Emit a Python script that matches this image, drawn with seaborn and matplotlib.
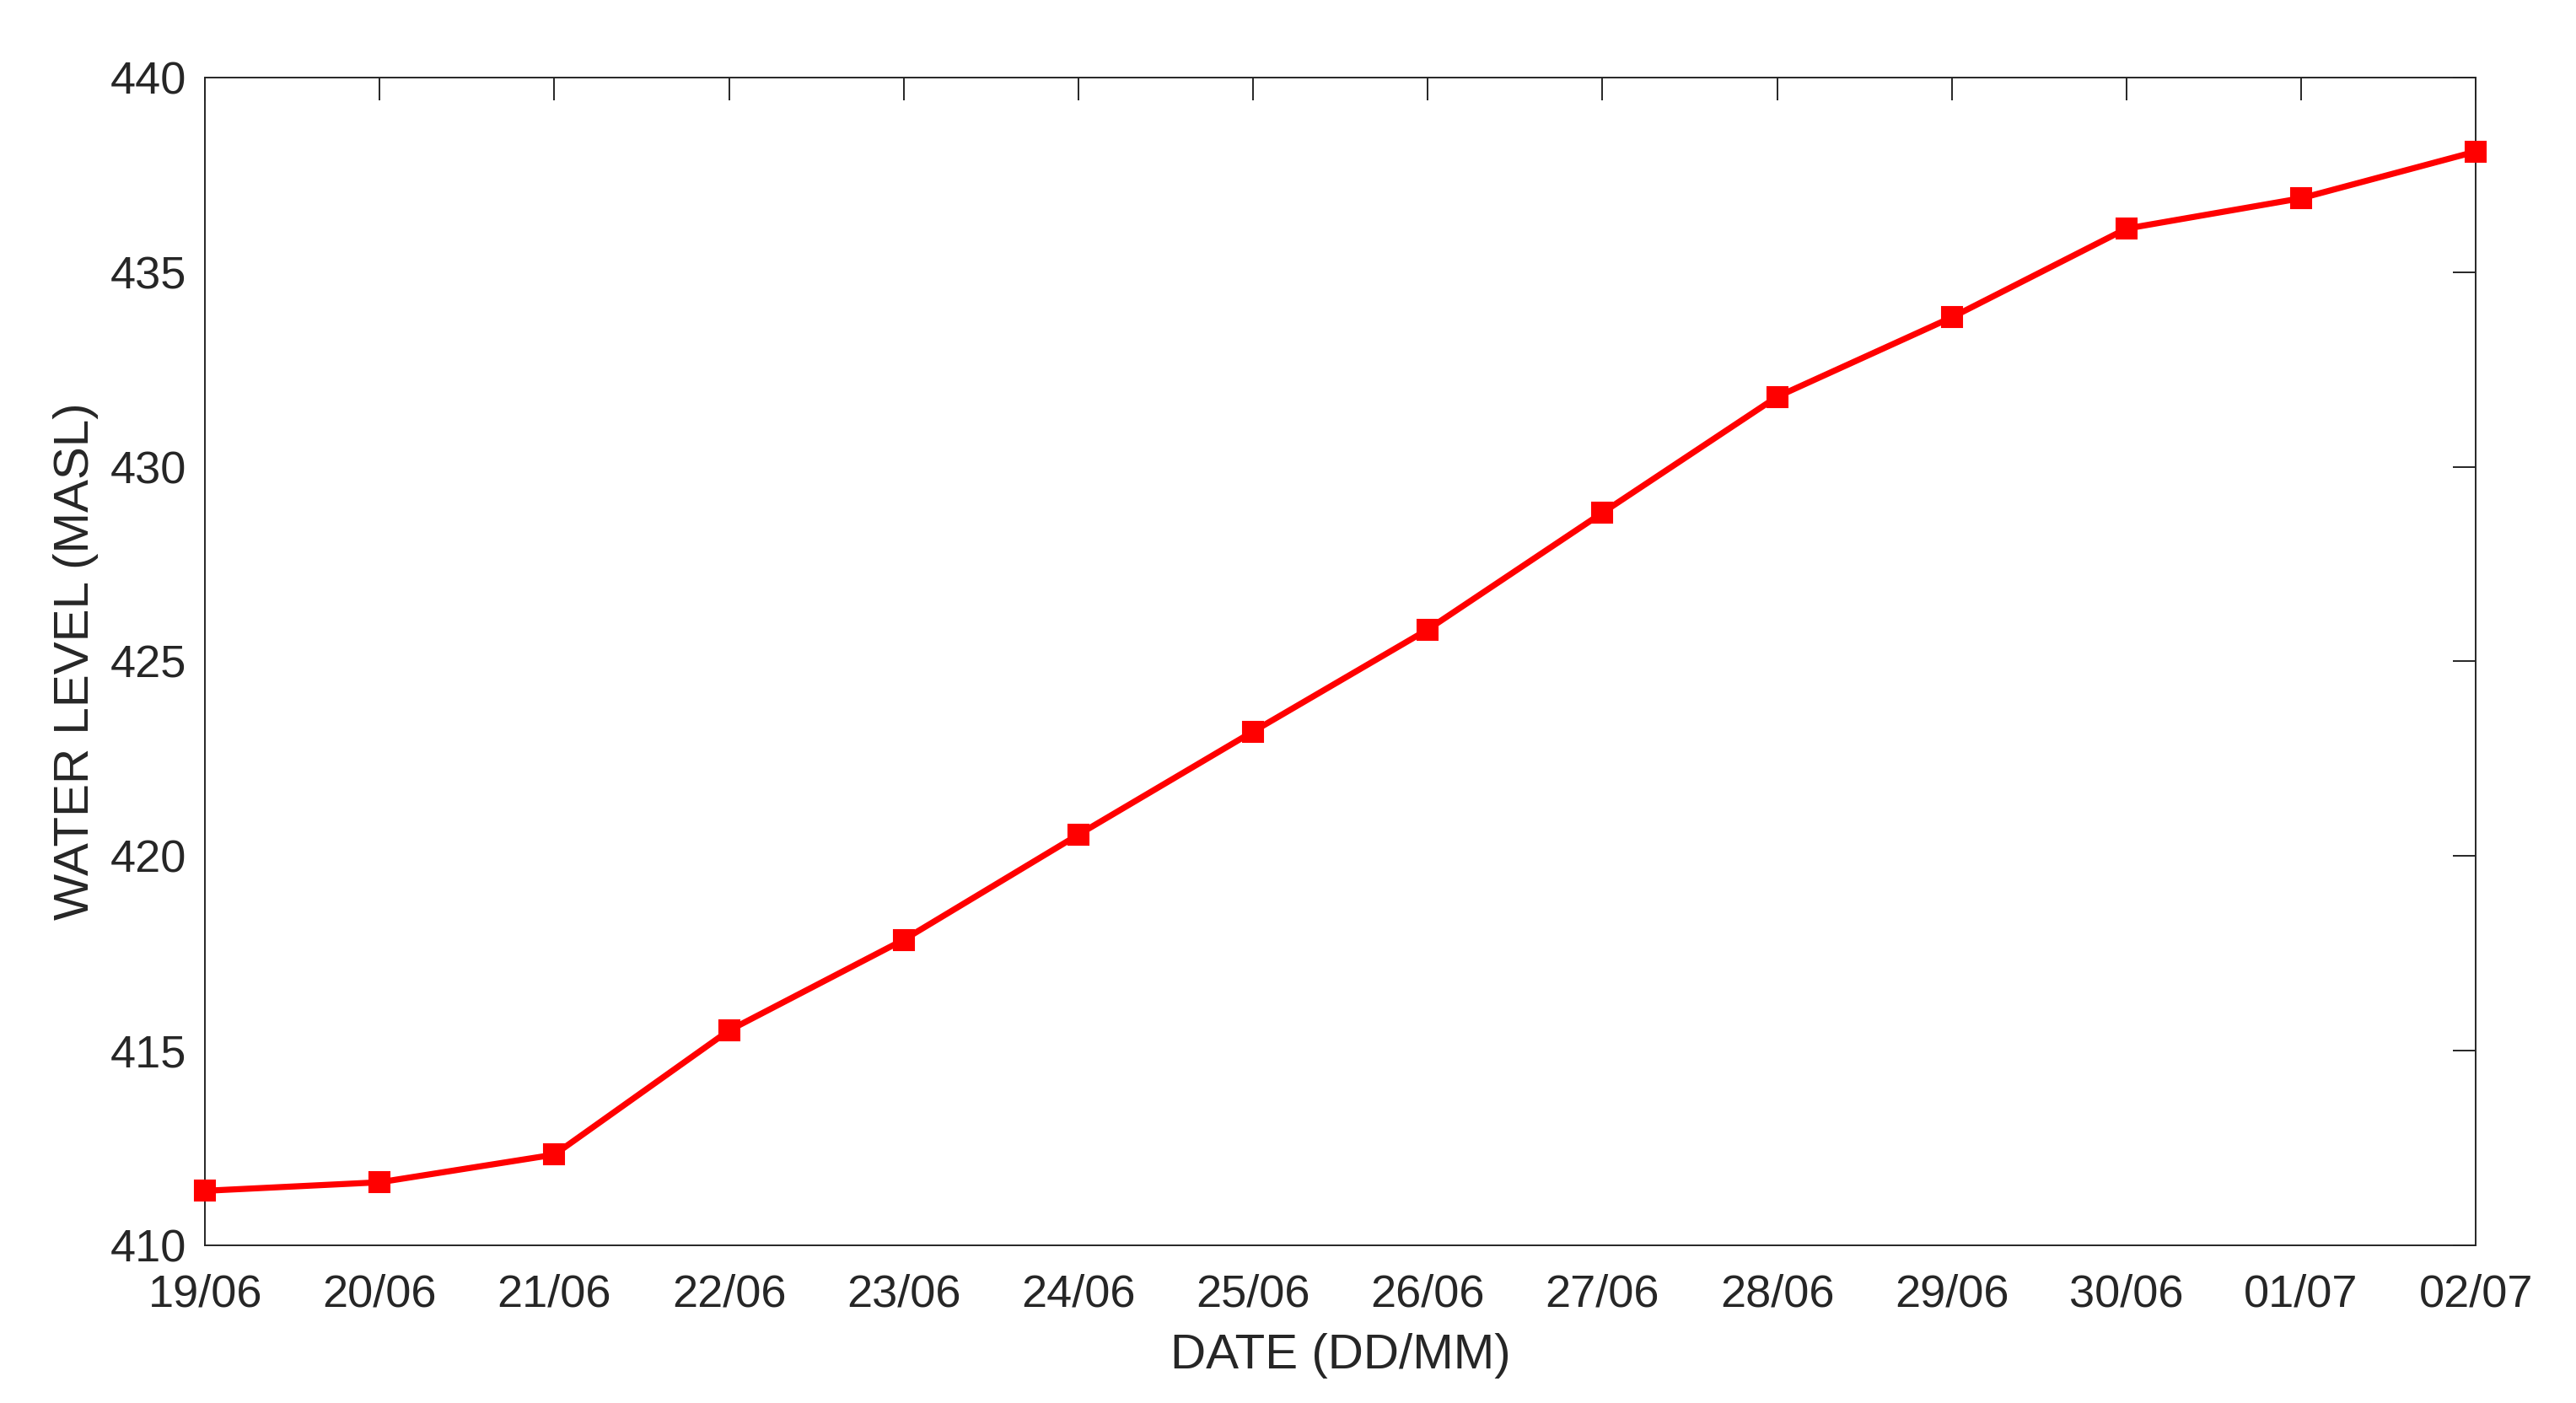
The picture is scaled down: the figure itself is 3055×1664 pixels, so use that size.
import matplotlib.pyplot as plt
import pandas as pd
import seaborn as sns

# Water level readings, one per day
dates = ["19/06", "20/06", "21/06", "22/06", "23/06", "24/06", "25/06",
         "26/06", "27/06", "28/06", "29/06", "30/06", "01/07", "02/07"]
levels = [411.4, 411.62, 412.33, 415.52, 417.85, 420.55, 423.2,
          425.82, 428.82, 431.8, 433.84, 436.12, 436.9, 438.1]
yticks = [410, 415, 420, 425, 430, 435, 440]

df = pd.DataFrame({"day": range(len(dates)), "level": levels})

sns.set_style("white")
plt.rcParams["font.family"] = ["Liberation Sans", "DejaVu Sans"]

fig = plt.figure(figsize=(15.275, 8.32), dpi=200)
ax = fig.add_axes([0.0796, 0.1124, 0.8815, 0.8323])

sns.lineplot(data=df, x="day", y="level", color="#ff0000", linewidth=2.6,
             marker="s", markersize=8.5, markeredgecolor="#ff0000", ax=ax,
             clip_on=False, zorder=5)

ax.set_xlim(0, len(dates) - 1)
ax.set_ylim(410, 440)
ax.set_xticks(range(len(dates)))
ax.set_xticklabels(dates)
ax.set_yticks(yticks)

# Labels
ax.set_xlabel("DATE (DD/MM)", fontsize=21, color="#262626", labelpad=7.5)
ax.set_ylabel("WATER LEVEL (MASL)", fontsize=21, color="#262626", labelpad=5)

# Boxed axes with inward ticks, matlab look
ax.tick_params(axis="both", which="both", direction="in", length=9.7, width=0.7,
               top=True, right=True, labelsize=19.5, colors="#262626")
ax.tick_params(axis="x", pad=12)
ax.tick_params(axis="y", pad=8)
for spine in ax.spines.values():
    spine.set_visible(True)
    spine.set_color("#262626")
    spine.set_linewidth(0.7)

plt.savefig("out.png", dpi=200)
plt.close()
